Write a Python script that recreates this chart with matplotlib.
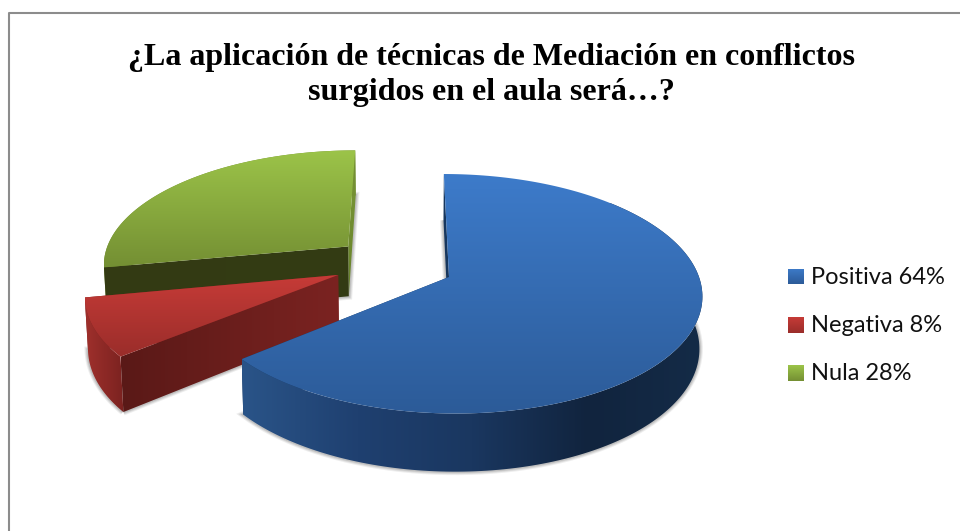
import numpy as np
import matplotlib
matplotlib.use('Agg')
import matplotlib.pyplot as plt
from matplotlib.colors import LinearSegmentedColormap
from matplotlib.patches import Polygon

# data
categories = ['Positiva', 'Negativa', 'Nula']
values = [64, 8, 28]
title = '¿La aplicación de técnicas de Mediación en conflictos\nsurgidos en el aula será…?'

# how far each slice is pulled away, in pie radii (u to the right, v to the back)
explode_u = [0.168, -0.276, -0.244]
explode_v = [0.0, 0.0174, 0.27]

# colours of the face and of the three walls of each slice
face_colors = [['#3d7bca', '#2c5b98'], ['#c63b37', '#9a2d2a'], ['#9cc449', '#748f33']]
start_colors = [['#17375e', '#17375e'], ['#5a1917', '#7b2321'], ['#333a13', '#343c14']]
end_colors = [['#17375e', '#17375e'], ['#7b2321', '#7b2321'], ['#7c9a38', '#67812b']]
rim_colors = [['#2a5488', '#1f4070', '#1a3760', '#11243e', '#142b47'],
              ['#a0302c', '#7a2220'], ['#748f33', '#748f33']]

# fake 3d pie: a plane seen in perspective
X0, Y0, A, B, K = 407, 277, 250, 117.4, 0.14


def top_plane(u, v):
    w = 1 + K * v
    return X0 + A * u / w, Y0 - B * v / w


def bottom_plane(x, y):
    return x + (X0 - x) * 0.01, y + 50 + 0.05 * (y - 250)


def gradient(ax, pts, colors, vertical=True, zorder=3):
    pts = np.array(pts)
    cmap = LinearSegmentedColormap.from_list('g', colors)
    ramp = np.linspace(0, 1, 256)
    ramp = ramp.reshape(-1, 1) if vertical else ramp.reshape(1, -1)
    x0, y0 = pts.min(axis=0)
    x1, y1 = pts.max(axis=0)
    im = ax.imshow(ramp, cmap=cmap, extent=(x0, x1, y1, y0), aspect='auto',
                   interpolation='bilinear', zorder=zorder)
    patch = Polygon(pts, closed=True, transform=ax.transData, fc='none', ec='none')
    ax.add_patch(patch)
    im.set_clip_path(patch)


fig = plt.figure(figsize=(9.6, 5.31), dpi=100)
ax = fig.add_axes([0, 0, 1, 1])

# outer frame of the chart, it runs off the picture on the right and bottom
ax.plot([9, 9, 960], [531, 13, 13], color='#8c8c8c', lw=1.5, zorder=1)

fractions = np.array(values) / sum(values)
ends = np.cumsum(fractions) * 2 * np.pi
starts = ends - fractions * 2 * np.pi

# back to front, the blue one sits over the others
for i in [2, 1, 0]:
    th = np.linspace(starts[i], ends[i], 200)
    apex = top_plane(explode_u[i], explode_v[i])
    rim = np.array(top_plane(explode_u[i] + np.sin(th), explode_v[i] + np.cos(th))).T
    rim_b = np.array(bottom_plane(rim[:, 0], rim[:, 1])).T
    apex_b = bottom_plane(*apex)

    start_wall = [rim[0], rim_b[0], apex_b, apex]
    end_wall = [apex, rim[-1], rim_b[-1], apex_b]
    rim_wall = np.vstack([rim, rim_b[::-1]])
    if i == 0:
        rim_wall = np.vstack([rim[40:], rim_b[40:][::-1]])

    # soft grey shadow along the lower edges only
    outline = np.vstack([[rim_b[0]], [apex_b], [rim_b[-1]], rim_b[::-1]])
    for lw, alpha in ((5, 0.10), (3.5, 0.14), (2, 0.18)):
        ax.add_patch(Polygon(outline, closed=False, fc='none', ec='#555555', lw=lw,
                             alpha=alpha, zorder=2))

    gradient(ax, end_wall, end_colors[i], vertical=i == 2)
    gradient(ax, rim_wall, rim_colors[i], vertical=False)
    gradient(ax, start_wall, start_colors[i], vertical=False)
    gradient(ax, np.vstack([[apex], rim]), face_colors[i])

# legend
for i, name in enumerate(categories):
    y = 276.5 + i * 48.2
    swatch = [(788, y - 8), (804, y - 8), (804, y + 8), (788, y + 8)]
    gradient(ax, swatch, face_colors[i])
    ax.text(811, y + 7, f'{name} {values[i]}%', fontsize=17, family='Lato',
            color='#111111', va='baseline', ha='left')

ax.text(491, 65, title.split('\n')[0], fontsize=23, family='Liberation Serif',
        fontweight='bold', ha='center', va='baseline', color='black')
ax.text(491, 100, title.split('\n')[1], fontsize=23, family='Liberation Serif',
        fontweight='bold', ha='center', va='baseline', color='black')

ax.set_xlim(0, 960)
ax.set_ylim(531, 0)
ax.axis('off')
fig.savefig('out.png', dpi=100, facecolor='white')
